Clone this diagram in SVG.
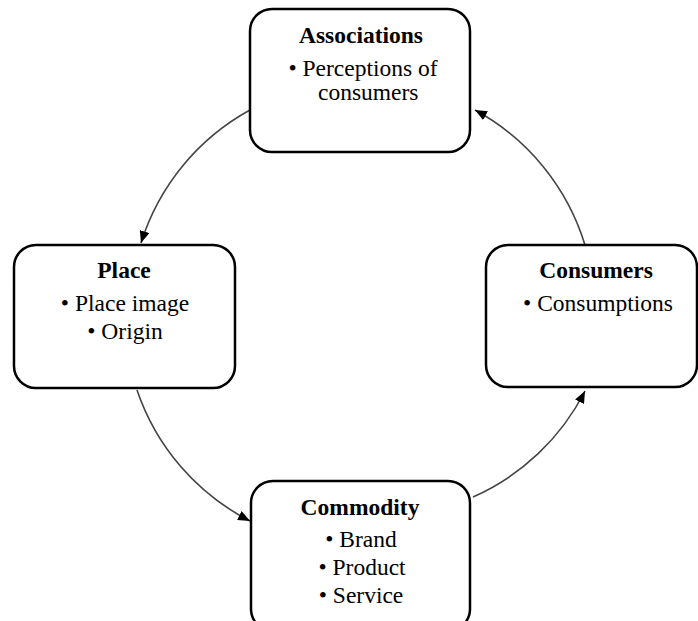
<svg xmlns="http://www.w3.org/2000/svg" width="698" height="621" viewBox="0 0 698 621">
<defs>
<style>
.box{fill:#fff;stroke:#000;stroke-width:2.5}
.t{font-family:"Liberation Serif","Times New Roman",serif;font-size:23.5px;fill:#000}
.h{font-weight:bold;text-anchor:middle}
.c{text-anchor:middle}
.conn{fill:none;stroke:#444;stroke-width:1.6}
</style>
<marker id="ah" viewBox="0 0 12 10" refX="12" refY="5" markerWidth="12" markerHeight="10" markerUnits="userSpaceOnUse" orient="auto">
<path d="M0,0 L12,5 L0,10 Z" fill="#000"/>
</marker>
</defs>
<rect width="698" height="621" fill="#fff"/>
<g id="connectors">
<path class="conn" d="M250,110 A230,230 0 0 0 141,243" marker-end="url(#ah)"/>
<path class="conn" d="M137,390 A230,230 0 0 0 250,521" marker-end="url(#ah)"/>
<path class="conn" d="M473,497 A230,230 0 0 0 585,391" marker-end="url(#ah)"/>
<path class="conn" d="M585,245 A230,230 0 0 0 475,110" marker-end="url(#ah)"/>
</g>
<g id="associations">
<rect class="box" x="250" y="9" width="220" height="143" rx="22"/>
<text class="t h" x="361" y="43">Associations</text>
<text class="t c" x="363" y="76">• Perceptions of</text>
<text class="t" x="318" y="100">consumers</text>
</g>
<g id="place">
<rect class="box" x="14" y="245" width="221" height="143" rx="22"/>
<text class="t h" x="124" y="278">Place</text>
<text class="t c" x="125" y="311">• Place image</text>
<text class="t c" x="125" y="339">• Origin</text>
</g>
<g id="consumers">
<rect class="box" x="486" y="245" width="211" height="142" rx="22"/>
<text class="t h" x="596" y="278">Consumers</text>
<text class="t c" x="598" y="311">• Consumptions</text>
</g>
<g id="commodity">
<rect class="box" x="251" y="481" width="219" height="150" rx="22"/>
<text class="t h" x="360" y="515">Commodity</text>
<text class="t c" x="361" y="547">• Brand</text>
<text class="t c" x="362" y="575">• Product</text>
<text class="t c" x="361" y="603">• Service</text>
</g>
</svg>
